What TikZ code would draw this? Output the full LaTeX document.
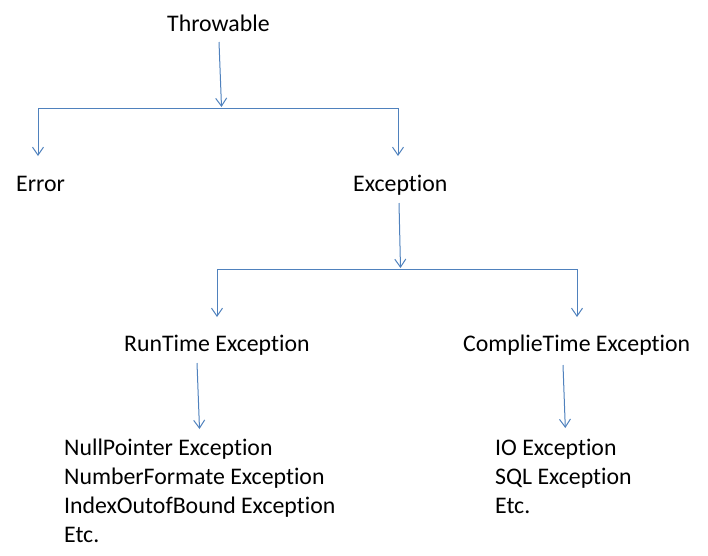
\documentclass[tikz,border=0pt]{standalone}
\usepackage{fontspec}
\setmainfont{Carlito}[RawFeature={-liga;-clig;-calt;-dlig}]
\usetikzlibrary{arrows.meta}
\definecolor{linkblue}{RGB}{79,129,189}
\tikzset{
  lbl/.style={anchor=base west, inner sep=0pt, text=black, font=\fontsize{23.8}{29}\selectfont},
  conn/.style={draw=linkblue, line width=1pt},
  arr/.style={conn, -{Straight Barb[length=8pt,width=11pt,line width=1pt]}}
}
\begin{document}
\begin{tikzpicture}[x=1pt,y=-1pt]
\useasboundingbox (0,0) rectangle (708,555);
% text nodes
\node[lbl] (throwable) at (167,31) {Throwable};
\node[lbl] (error) at (16,191) {Error};
\node[lbl] (exception) at (353,191) {Exception};
\node[lbl] (runtime) at (124,351) {RunTime Exception};
\node[lbl] (compile) at (463,351) {ComplieTime Exception};
\node[lbl] (np) at (64,455) {NullPointer Exception};
\node[lbl] (nf) at (64,484) {NumberFormate Exception};
\node[lbl] (ioob) at (64,513) {IndexOutofBound Exception};
\node[lbl] (etc1) at (64,542) {Etc.};
\node[lbl] (io) at (495,455) {IO Exception};
\node[lbl] (sql) at (495,484) {SQL Exception};
\node[lbl] (etc2) at (495,513) {Etc.};
% connector coordinates
\coordinate (t0) at (219,42);
\coordinate (t1) at (221.5,107);
\coordinate (b1l) at (38,108);
\coordinate (b1r) at (398,108);
\coordinate (errtip) at (38,156);
\coordinate (exctip) at (398,156);
\coordinate (e0) at (399,203);
\coordinate (e1) at (400.5,268);
\coordinate (b2l) at (217,269);
\coordinate (b2r) at (577,269);
\coordinate (rttip) at (217,317);
\coordinate (cttip) at (577,317);
\coordinate (r0) at (197,363);
\coordinate (r1) at (199.5,429);
\coordinate (c0) at (563,365);
\coordinate (c1) at (565.3,428);
% connectors
\draw[arr] (t0) -- (t1);
\draw[conn] (b1l) -- (b1r);
\draw[arr] (b1l) -- (errtip);
\draw[arr] (b1r) -- (exctip);
\draw[arr] (e0) -- (e1);
\draw[conn] (b2l) -- (b2r);
\draw[arr] (b2l) -- (rttip);
\draw[arr] (b2r) -- (cttip);
\draw[arr] (r0) -- (r1);
\draw[arr] (c0) -- (c1);
\end{tikzpicture}
\end{document}
